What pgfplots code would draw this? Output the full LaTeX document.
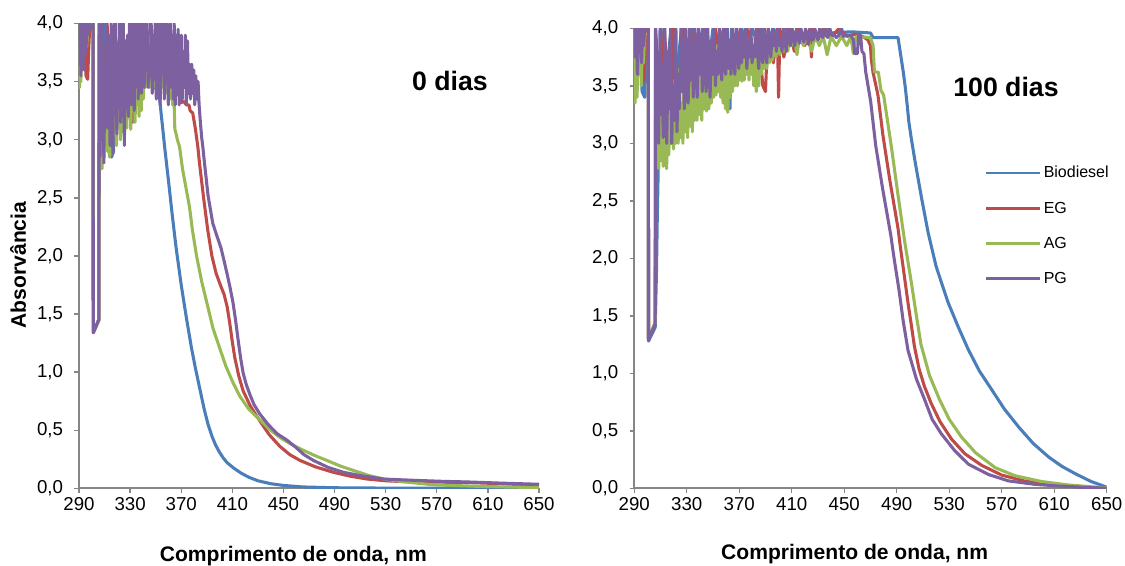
\documentclass[border=0pt]{standalone}
\usepackage{fontspec}
\setmainfont{Liberation Sans}
\usepackage{pgfplots}
\pgfplotsset{compat=1.18}
\definecolor{cBio}{HTML}{4A7EBB}
\definecolor{cEG}{HTML}{BE4B48}
\definecolor{cAG}{HTML}{98B954}
\definecolor{cPG}{HTML}{7D60A0}
\definecolor{axgray}{HTML}{868686}
\pgfplotsset{myax/.style={
  scale only axis, anchor=south west,
  xmin=290, xmax=650, ymin=0, ymax=4,
  xtick={290,330,...,650}, ytick={0,0.5,...,4},
  axis x line*=bottom, axis y line*=left,
  axis line style={axgray, line width=1.3pt, -},
  tick style={axgray, line width=1pt},
  tick align=outside, major tick length=3.5pt,
  /pgf/number format/assume math mode=true,
  tick label style={font=\fontsize{14}{16}\selectfont},
  yticklabel style={xshift=-5pt, /pgf/number format/.cd, fixed, fixed zerofill, precision=1, use comma},
  xticklabel style={/pgf/number format/.cd, fixed, precision=0, 1000 sep={}},
  every axis plot/.append style={line width=2.3pt, line join=round, no markers},
}}
\begin{document}
\begin{tikzpicture}
\path[use as bounding box] (0,0) rectangle (843.75pt,423.75pt);
% ---------------- left: 0 dias
\begin{axis}[myax, at={(59.25pt,57.5pt)}, width=345pt, height=348.6pt]
\addplot[cBio] coordinates {(290,4.0)(291.5,3.85)(293,4.0)(294.5,3.6)(296,4.0)(301,4.0)(301.2,1.34)(305.5,1.45)(305.8,3.9)(308,3.1)(310,4.0)(313,3.2)(315.5,2.85)(317,2.9)(318,4.0)(321,3.3)(324,4.0)(327,3.25)(330,4.0)(333,3.4)(336,4.0)(339,3.45)(342,4.0)(345,3.5)(347,3.9)(349,3.46)(351,3.42)(353,3.37)(354.5,3.2)(355.5,3.1)(357,2.94)(360,2.65)(363,2.35)(366,2.07)(370,1.75)(374,1.47)(378,1.21)(381,1.04)(384,0.885)(388,0.68)(391,0.55)(394,0.45)(397,0.37)(400,0.31)(403,0.26)(406,0.22)(411,0.175)(417,0.13)(423,0.095)(430,0.065)(440,0.04)(450,0.025)(465,0.012)(490,0.005)(530,0.002)(650,0.0)};
\addplot[cEG] coordinates {(290,3.9)(291,4.0)(292.5,3.85)(294,4.0)(295.5,3.55)(296.8,3.52)(297.5,3.75)(298.5,4.0)(301,4.0)(301.2,1.34)(305.5,1.45)(305.8,4.0)(309,3.2)(312,4.0)(315,3.3)(318,4.0)(321,3.35)(324,4.0)(327,3.2)(330,4.0)(332,3.15)(334,4.0)(337,3.45)(340,4.0)(343,3.5)(346,4.0)(349,3.55)(352,4.0)(355,3.5)(358,4.0)(361,3.5)(362,3.9)(363,3.45)(364,3.8)(365,3.5)(366,3.45)(367,3.4)(368.7,3.37)(370,3.32)(372,3.33)(374,3.3)(376,3.3)(377,3.25)(379,3.23)(381,3.1)(383,2.94)(384.3,2.8)(387.5,2.5)(390.8,2.22)(394,2.0)(397.3,1.85)(401,1.74)(403.5,1.67)(406,1.56)(408,1.42)(410,1.26)(412,1.12)(415,0.97)(418.4,0.84)(424,0.71)(431.5,0.58)(439,0.46)(447.3,0.36)(455,0.29)(463,0.24)(475,0.185)(489,0.138)(502,0.105)(515.5,0.08)(530,0.065)(541.7,0.059)(560,0.055)(594,0.05)(620,0.04)(650,0.025)};
\addplot[cAG] coordinates {(290,3.7)(290.5,3.45)(291,3.8)(291.5,3.5)(292,3.9)(292.5,3.6)(293,3.9)(294,3.7)(295,3.9)(296,3.8)(297,4.0)(301,4.0)(301.2,1.34)(305.5,1.45)(305.8,3.9)(306.5,3.1)(307.2,3.8)(308,2.75)(308.6,3.3)(309.3,2.85)(310.2,3.6)(310.8,2.95)(311.7,3.4)(312.4,2.9)(313.2,3.65)(313.9,2.85)(314.7,3.2)(315.4,3.5)(316.1,2.88)(317.0,3.6)(317.8,3.05)(318.5,3.3)(319.3,2.95)(320.2,3.6)(321.0,3.1)(321.8,3.45)(322.5,3.0)(323.4,3.7)(324.2,3.07)(325.0,3.4)(325.7,3.15)(326.6,3.7)(327.4,3.1)(328.3,3.55)(329.0,3.2)(329.8,3.75)(330.5,3.09)(331.4,3.5)(332.2,3.25)(333.0,3.75)(333.8,3.15)(334.6,3.45)(335.3,3.3)(336.2,3.8)(337.0,3.2)(337.9,3.6)(338.7,3.25)(339.5,3.85)(340.3,3.35)(341.1,3.6)(341.9,3.45)(342.8,3.9)(343.6,3.5)(344.4,3.75)(345.2,3.45)(346.1,3.9)(346.9,3.55)(347.7,3.8)(348.5,3.45)(349.3,3.9)(350.2,3.5)(351.0,3.85)(351.8,3.45)(352.6,3.7)(353.4,3.55)(354.3,3.9)(355.1,3.45)(355.9,3.8)(356.7,3.5)(357.6,3.85)(358.4,3.4)(359.2,3.75)(360.0,3.45)(360.9,3.8)(361.7,3.35)(362.5,3.7)(363.3,3.3)(364,3.5)(365,3.09)(366,3.05)(367,3.0)(368.7,2.94)(371,2.75)(373.5,2.6)(376.5,2.42)(378.8,2.22)(382,2.0)(386,1.78)(390,1.6)(394.8,1.38)(400,1.21)(405,1.05)(410.5,0.91)(416,0.79)(423,0.68)(431.5,0.59)(440,0.5)(447,0.44)(455,0.386)(465,0.33)(475,0.28)(484,0.24)(495,0.19)(505,0.153)(517,0.11)(528.6,0.08)(545,0.055)(568,0.03)(600,0.018)(630,0.01)(650,0.008)};
\addplot[cPG] coordinates {(290,4.0)(290.5,3.65)(291,4.0)(291.5,3.55)(292,4.0)(292.7,3.8)(293.3,4.0)(294,3.6)(294.5,4.0)(295.5,3.75)(296,4.0)(297,3.9)(298,4.0)(300,3.95)(301,4.0)(301.2,1.34)(305.5,1.45)(305.8,4.0)(306.4,2.85)(307.0,3.6)(307.6,3.0)(308.4,4.0)(309.0,3.2)(309.5,2.8)(310.3,3.7)(311.0,3.3)(311.6,4.0)(312.5,3.1)(313.1,3.9)(313.8,3.45)(314.3,2.95)(315.2,4.0)(316.0,3.3)(316.5,2.88)(317.3,3.8)(318.2,3.5)(318.8,4.0)(319.6,3.05)(320.4,3.6)(321.0,3.3)(321.9,4.0)(322.6,3.15)(323.2,3.7)(324.0,3.4)(324.7,4.0)(325.5,2.95)(326.3,3.85)(327.0,3.35)(327.9,3.9)(328.6,3.2)(329.5,4.0)(330.2,3.5)(330.8,3.3)(331.7,4.0)(332.5,3.6)(333.2,3.25)(334.0,4.0)(334.9,3.55)(335.6,3.95)(336.3,3.35)(337.2,4.0)(338.0,3.6)(338.8,3.4)(339.5,4.0)(340.3,3.7)(341.0,3.45)(341.9,4.0)(342.7,3.6)(343.3,4.0)(344.1,3.45)(345.0,3.8)(345.7,3.55)(346.5,4.0)(347.3,3.4)(348.2,3.9)(348.9,3.65)(349.6,4.0)(350.5,3.35)(351.3,3.7)(352.0,4.0)(352.8,3.5)(353.5,3.3)(354.4,4.0)(355.2,3.6)(356.0,4.0)(356.8,3.35)(357.5,3.8)(358.3,3.5)(359.0,4.0)(359.9,3.3)(360.7,3.7)(361.5,4.0)(362.3,3.45)(363.0,3.9)(363.8,3.35)(364.5,4.0)(365.3,3.3)(366.1,3.9)(366.9,3.45)(367.6,3.95)(368.4,3.3)(369.2,3.6)(370.0,3.9)(370.8,3.35)(371.6,3.75)(372.4,3.45)(373.2,3.9)(374.0,3.3)(374.9,3.85)(375.7,3.4)(376.5,3.65)(377.3,3.35)(378.2,3.65)(379.0,3.4)(379.8,3.6)(380.6,3.3)(381.4,3.55)(382.3,3.35)(383.2,3.5)(384,3.3)(385,3.15)(386,3.02)(386.9,2.94)(388.2,2.8)(391,2.52)(394.7,2.28)(398,2.17)(401.1,2.07)(403.5,1.96)(406,1.84)(408,1.74)(410.5,1.6)(412.5,1.45)(414.5,1.28)(416.5,1.12)(418.5,0.99)(421,0.89)(424,0.8)(427,0.72)(431.5,0.64)(438,0.55)(445,0.47)(452.5,0.417)(460,0.35)(466,0.29)(473.5,0.24)(485,0.18)(497,0.138)(510,0.11)(528.6,0.08)(550,0.07)(575,0.06)(594,0.055)(620,0.045)(650,0.035)};
\end{axis}
% ---------------- right: 100 dias
\begin{axis}[myax, at={(475.65pt,57.5pt)}, width=354.4pt, height=345pt,
  legend style={at={(0.742,0.7065)}, anchor=north west, draw=none, fill=none,
    inner sep=0pt, row sep=12.5pt, font=\fontsize{12}{14}\selectfont},
  legend cell align=left,
  legend image code/.code={\draw[#1, line width=2pt] (0pt,0pt) -- (40pt,0pt);}]
\addplot[cBio] coordinates {(290,4.0)(292,3.8)(294,4.0)(296,3.45)(298,3.4)(299,4.0)(300.8,4.0)(300.9,1.28)(306,1.40)(307,1.9)(307.5,2.3)(308.5,2.9)(309.5,3.6)(310.5,4.0)(314,3.5)(318,4.0)(322,3.55)(326,4.0)(330,3.6)(334,4.0)(338,3.65)(342,4.0)(346,3.6)(350,4.0)(354,3.7)(358,4.0)(362,3.4)(363,3.3)(364,4.0)(368,3.75)(372,4.0)(376,3.8)(380,4.0)(384,3.85)(388,4.0)(392,3.85)(396,4.0)(400,3.9)(405,4.0)(410,3.92)(415,4.0)(420,3.93)(425,4.0)(430,3.93)(436,4.0)(440,3.96)(455,3.97)(470,3.96)(472,3.92)(491,3.92)(492.6,3.8)(495,3.62)(496.6,3.48)(498,3.33)(499.2,3.19)(501,3.05)(504,2.84)(509,2.52)(514,2.22)(520,1.93)(529,1.62)(537,1.4)(544.6,1.205)(553,1.02)(562.6,0.854)(572,0.69)(583,0.532)(594,0.39)(606,0.27)(616,0.19)(626.6,0.124)(638,0.06)(650,0.01)};
\addlegendentry{Biodiesel}
\addplot[cEG] coordinates {(290,4.0)(292,3.7)(294,4.0)(296,3.55)(297.5,3.55)(299,4.0)(300.8,4.0)(300.9,1.30)(306,1.44)(306.3,4.0)(310,3.3)(313,4.0)(316,3.4)(318,4.0)(319,3.05)(320,4.0)(324,3.45)(328,4.0)(332,3.5)(336,4.0)(340,3.55)(344,4.0)(348,3.6)(352,4.0)(356,3.6)(360,4.0)(364,3.65)(368,4.0)(372,3.7)(376,4.0)(380,3.7)(384,4.0)(388,3.5)(390,3.45)(392,4.0)(396,3.7)(399,4.0)(400,3.4)(401,4.0)(404,3.75)(408,4.0)(412,3.8)(416,4.0)(420,3.85)(424,4.0)(425,3.75)(426,4.0)(430,3.9)(434,4.0)(440,3.92)(446,4.0)(452,3.93)(458,3.95)(464,3.93)(468,3.9)(470,3.85)(470.6,3.74)(471.9,3.62)(475.7,3.42)(479.5,3.07)(484.6,2.69)(491,2.26)(493,2.08)(496,1.83)(499,1.58)(501,1.43)(503.4,1.24)(507,1.04)(511,0.89)(516.2,0.74)(523,0.58)(531.6,0.43)(542,0.3)(554.7,0.2)(570,0.115)(588,0.062)(610,0.03)(630,0.012)(650,0.003)};
\addlegendentry{EG}
\addplot[cAG] coordinates {(290,3.9)(290.6,3.35)(291.4,3.85)(292.2,3.4)(293,3.9)(293.8,3.6)(294.6,3.85)(295.4,3.5)(296.2,3.9)(297,3.7)(298,3.95)(300.8,3.95)(300.9,1.30)(306,1.44)(306.3,3.6)(307.2,2.9)(307.9,3.3)(308.7,2.78)(309.6,3.5)(310.4,2.85)(311.3,3.2)(312.1,2.8)(313.0,3.45)(313.8,2.95)(314.7,2.78)(315.6,3.4)(316.4,2.9)(317.3,3.6)(318.1,3.0)(319.0,3.3)(319.9,2.95)(320.8,3.55)(321.7,3.0)(322.6,3.4)(323.5,3.0)(324.4,3.65)(325.3,3.05)(326.2,3.35)(327.1,3.0)(328.0,3.65)(328.9,3.1)(329.8,3.45)(330.7,3.05)(331.6,3.7)(332.5,3.15)(333.4,3.5)(334.3,3.1)(335.2,3.75)(336.1,3.2)(337.0,3.55)(337.9,3.2)(338.8,3.8)(339.7,3.25)(340.6,3.6)(341.5,3.2)(342.4,3.75)(343.3,3.3)(344.2,3.6)(345.1,3.28)(346.0,3.8)(346.9,3.3)(347.8,3.65)(348.7,3.35)(349.6,3.85)(350.5,3.4)(351.4,3.7)(352.3,3.42)(353.2,3.85)(354.1,3.45)(355.0,3.7)(355.9,3.4)(356.8,3.85)(357.7,3.35)(358.6,3.6)(359.5,3.3)(360.4,3.85)(361.3,3.27)(362.2,3.6)(363.1,3.4)(364.0,3.85)(364.9,3.45)(365.8,3.7)(366.7,3.5)(367.6,3.9)(368.5,3.5)(369.4,3.75)(370.3,3.55)(371.2,3.9)(372.1,3.54)(373.0,3.8)(373.9,3.55)(374.8,3.9)(375.7,3.6)(376.6,3.8)(377.5,3.55)(378.4,3.92)(379.3,3.6)(380.2,3.75)(381.1,3.5)(382.0,3.92)(383.0,3.45)(384.0,3.7)(385.0,3.5)(386.0,3.92)(387.0,3.6)(388.0,3.8)(389.0,3.65)(390.0,3.92)(391.0,3.65)(392.0,3.85)(393.0,3.7)(394.0,3.92)(395.0,3.72)(396.5,3.9)(398.0,3.75)(399.5,3.93)(401.0,3.77)(402.5,3.9)(404.0,3.8)(405.5,3.93)(407.0,3.8)(408.5,3.93)(410.0,3.85)(412,3.93)(414,3.77)(416,3.93)(419,3.85)(422,3.93)(425,3.8)(428,3.93)(431,3.85)(434,3.93)(437,3.77)(440,3.93)(444,3.85)(448,3.93)(452,3.85)(455,3.93)(457,3.78)(459,3.93)(470,3.92)(472,3.85)(473,3.62)(476,3.62)(478,3.46)(480,3.42)(482,3.27)(485.8,2.98)(491,2.55)(496,2.15)(501,1.8)(505,1.5)(508.5,1.25)(515,0.98)(522.8,0.767)(530,0.6)(539.4,0.445)(550,0.31)(565,0.18)(580,0.11)(600,0.06)(620,0.03)(640,0.012)(650,0.005)};
\addlegendentry{AG}
\addplot[cPG] coordinates {(290,4.0)(290.8,3.75)(291.6,4.0)(292.4,3.6)(293.2,4.0)(294,3.8)(294.8,4.0)(295.6,3.7)(296.4,4.0)(297.2,3.85)(298,4.0)(300.8,4.0)(300.9,1.29)(306,1.43)(306.2,4.0)(307.1,3.1)(307.8,3.5)(308.6,3.0)(309.7,4.0)(310.5,3.25)(311.2,3.7)(312.1,3.05)(313.3,4.0)(314.0,3.4)(314.8,3.0)(315.9,3.8)(316.7,3.3)(317.8,4.0)(318.6,3.0)(319.5,3.5)(320.6,3.2)(321.8,4.0)(322.6,3.1)(323.5,3.6)(324.4,3.3)(325.6,4.0)(326.5,3.45)(327.3,3.9)(328.2,3.3)(329.4,4.0)(330.3,3.5)(331.1,3.35)(332.3,4.0)(333.2,3.55)(334.0,3.9)(335.0,3.4)(336.2,4.0)(337.1,3.6)(338.0,3.4)(339.1,4.0)(340.0,3.6)(341.0,3.95)(341.9,3.45)(343.0,4.0)(343.9,3.65)(344.8,3.45)(346.0,4.0)(346.9,3.7)(347.8,3.4)(348.9,3.9)(349.8,3.6)(351.0,4.0)(351.9,3.5)(352.8,3.8)(353.8,3.6)(354.9,4.0)(355.8,3.7)(356.7,3.55)(357.9,4.0)(358.8,3.75)(359.7,3.6)(360.9,4.0)(361.8,3.65)(362.8,3.9)(363.7,3.6)(364.9,4.0)(365.8,3.75)(366.7,3.6)(367.9,4.0)(368.8,3.8)(369.7,3.65)(370.9,4.0)(371.8,3.7)(372.9,3.95)(373.8,3.75)(374.9,4.0)(375.8,3.65)(376.8,3.9)(377.7,3.75)(378.9,4.0)(379.8,3.7)(380.9,3.85)(381.8,3.75)(383.0,4.0)(383.9,3.8)(384.9,3.65)(386.0,4.0)(386.9,3.8)(388.0,3.7)(389.1,4.0)(390.0,3.85)(391.0,3.7)(392.2,4.0)(393.1,3.85)(394.1,3.75)(395.3,4.0)(396.2,3.85)(397.3,3.95)(398.3,3.8)(399.5,4.0)(400.5,3.85)(401.6,3.9)(402.6,3.8)(403.8,4.0)(404.8,3.9)(405.8,3.8)(407.0,4.0)(408.0,3.9)(409.1,3.85)(410.3,4.0)(411.3,3.92)(412.4,3.85)(413.6,4.0)(414.7,3.93)(415.8,3.87)(417.0,4.0)(418.1,3.93)(419.3,3.88)(420.5,4.0)(421.6,3.94)(422.8,3.86)(424.0,4.0)(425.2,3.93)(426.4,3.9)(427.6,4.0)(428.8,3.94)(430.0,3.9)(431.2,4.0)(432.4,3.94)(433.6,3.92)(434.8,4.0)(436.0,3.94)(437.5,3.92)(439.0,4.0)(440.5,3.94)(442.5,3.94)(444,3.92)(446,3.94)(448,4.0)(449.2,3.93)(452,3.94)(455,3.94)(457,3.9)(458,3.78)(460,3.78)(461,3.94)(462.5,3.94)(463.5,3.8)(465,3.78)(466.4,3.62)(470.2,3.36)(474,2.98)(479.2,2.61)(485.5,2.2)(488,2.0)(491.8,1.72)(495,1.45)(498.6,1.2)(505,0.95)(511.4,0.767)(517,0.6)(524,0.474)(534,0.33)(544.6,0.21)(560,0.12)(575,0.065)(595,0.035)(613.4,0.02)(635,0.008)(650,0.002)};
\addlegendentry{PG}
\end{axis}
% ---------------- texts
\node[anchor=base, font=\fontsize{20}{24}\selectfont\bfseries] at (337.5pt,355.5pt) {0 dias};
\node[anchor=base, font=\fontsize{20}{24}\selectfont\bfseries] at (754.5pt,351pt) {100 dias};
\node[anchor=base, font=\fontsize{15.8}{18}\selectfont\bfseries] at (220pt,3pt) {Comprimento de onda, nm};
\node[anchor=base, font=\fontsize{15.8}{18}\selectfont\bfseries] at (641pt,4.5pt) {Comprimento de onda, nm};
\node[rotate=90, anchor=center, font=\fontsize{15.8}{18}\selectfont\bfseries] at (13.5pt,225pt) {Absorvância};
\end{tikzpicture}
\end{document}
